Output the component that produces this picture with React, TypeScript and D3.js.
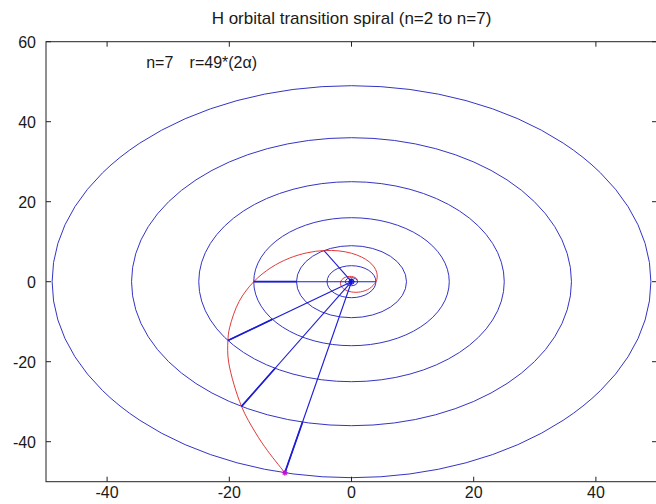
import React from 'react';
import * as d3 from 'd3';

// Orbit levels and radii (r = n^2)
const levels = [1, 2, 3, 4, 5, 6, 7];
const orbitRadii = [1, 4, 9, 16, 25, 36, 49];

// Transition points on each orbit (angle in degrees)
const transitionLevels = [2, 3, 4, 5, 6, 7];
const transitionAngles = [0, 120, 180, 216, 240, 257.14];

// Red spiral samples (angle in degrees, radius)
const spiralAngles = [-360, -330, -300, -270, -240, -210, -180, -150, -120, -90, -60, -30, 0, 15, 30, 45, 60, 75, 90, 105, 120, 135, 150, 165, 180, 195, 210, 216, 225, 240, 247.5, 252, 257.14];
const spiralRadii = [1, 1.089, 1.19, 1.306, 1.44, 1.596, 1.778, 1.993, 2.25, 2.56, 2.939, 3.408, 4, 4.355, 4.76, 5.224, 5.76, 6.382, 7.111, 7.972, 9, 10.24, 11.755, 13.633, 16, 19.04, 23.04, 25, 28.44, 36, 40.96, 44.44, 49];

const xTicks = [-40, -20, 0, 20, 40];
const yTicks = [-40, -20, 0, 20, 40, 60];
const xDomain = [-50, 50];
const yDomain = [-50, 60];

const title = 'H orbital transition spiral (n=2 to n=7)';
const noteLevel = 'n=7';
const noteFormula = 'r=49*(2α)';

const W = 656;
const H = 504;
const left = 46;
const right = 657;
const top = 41.7;
const bottom = 481.7;

const FONT = '"Liberation Sans", Arial, Helvetica, sans-serif';
const FS = 16;

export default function App() {
  const x = d3.scaleLinear().domain(xDomain).range([left, right]);
  const y = d3.scaleLinear().domain(yDomain).range([bottom, top]);
  const rad = (deg: number) => (deg * Math.PI) / 180;

  const spiralPts: [number, number][] = spiralAngles.map((a, i) => [
    x(spiralRadii[i] * Math.cos(rad(a))),
    y(spiralRadii[i] * Math.sin(rad(a))),
  ]);
  const spiralPath = d3.line().curve(d3.curveCatmullRom.alpha(0.5))(spiralPts) || '';

  const circleColor = '#3434c4';
  const rayColor = '#1c1cd4';
  const redColor = '#e03a3a';
  const textColor = '#1a1a1a';

  const lastIdx = transitionLevels.length - 1;
  const lastR = orbitRadii[transitionLevels[lastIdx] - 1];
  const lastA = rad(transitionAngles[lastIdx]);
  const px = x(lastR * Math.cos(lastA));
  const py = y(lastR * Math.sin(lastA));

  const cx0 = x(0);
  const cy0 = y(0);

  const star = (cx: number, cy: number, s: number, color: string, key: string) => (
    <g key={key} stroke={color} strokeWidth={1}>
      <line x1={cx - s} y1={cy} x2={cx + s} y2={cy} />
      <line x1={cx} y1={cy - s} x2={cx} y2={cy + s} />
      <line x1={cx - s * 0.7} y1={cy - s * 0.7} x2={cx + s * 0.7} y2={cy + s * 0.7} />
      <line x1={cx - s * 0.7} y1={cy + s * 0.7} x2={cx + s * 0.7} y2={cy - s * 0.7} />
    </g>
  );

  return (
    <svg width={W} height={H} style={{ position: 'absolute', left: 0, top: 0, background: '#fff' }} fontFamily={FONT}>
      <defs>
        <clipPath id="plot">
          <rect x={left} y={top} width={right - left} height={bottom - top} />
        </clipPath>
      </defs>
      <rect x={0} y={0} width={W} height={H} fill="#fff" />
      <text x={(left + right) / 2} y={24} textAnchor="middle" fontSize={17} fill={textColor}>
        {title}
      </text>
      <g clipPath="url(#plot)">
        {levels.map((n, i) => (
          <ellipse
            key={'c' + n}
            cx={cx0}
            cy={cy0}
            rx={x(orbitRadii[i]) - x(0)}
            ry={y(0) - y(orbitRadii[i])}
            fill="none"
            stroke={circleColor}
            strokeWidth={1}
          />
        ))}
        <path d={spiralPath} fill="none" stroke={redColor} strokeWidth={1} />
        {transitionLevels.map((n, i) => {
          const r = orbitRadii[n - 1];
          const r0 = orbitRadii[n - 2];
          const a = rad(transitionAngles[i]);
          const thick = n >= 4;
          return (
            <g key={'r' + n}>
              <line x1={cx0} y1={cy0} x2={x(r * Math.cos(a))} y2={y(r * Math.sin(a))} stroke={rayColor} strokeWidth={1.1} />
              {thick && (
                <line
                  x1={x(r0 * Math.cos(a))}
                  y1={y(r0 * Math.sin(a))}
                  x2={x(r * Math.cos(a))}
                  y2={y(r * Math.sin(a))}
                  stroke={rayColor}
                  strokeWidth={1.7}
                />
              )}
            </g>
          );
        })}
        <circle cx={cx0} cy={cy0} r={2.5} fill="none" stroke="#1010e0" strokeWidth={1} />
        {star(cx0, cy0, 3, '#1010e0', 'cs')}
        <circle cx={px} cy={py} r={2} fill="#c010d0" />
        {star(px, py, 3, '#c010d0', 'ps')}
      </g>
      {/* frame */}
      <rect x={left} y={top} width={right - left} height={bottom - top} fill="none" stroke="#222" strokeWidth={1} />
      {xTicks.map((t) => (
        <g key={'xt' + t}>
          <line x1={x(t)} y1={bottom} x2={x(t)} y2={bottom - 5} stroke="#222" />
          <line x1={x(t)} y1={top} x2={x(t)} y2={top + 5} stroke="#222" />
          <text x={x(t)} y={498} textAnchor="middle" fontSize={FS} fill={textColor}>
            {t}
          </text>
        </g>
      ))}
      {yTicks.map((t) => (
        <g key={'yt' + t}>
          <line x1={left} y1={y(t)} x2={left + 5} y2={y(t)} stroke="#222" />
          <line x1={right} y1={y(t)} x2={right - 5} y2={y(t)} stroke="#222" />
          <text x={36} y={y(t) + 6} textAnchor="end" fontSize={FS} fill={textColor}>
            {t}
          </text>
        </g>
      ))}
      <text x={x(-33.6)} y={y(53.5)} fontSize={FS} fill={textColor}>
        {noteLevel}
      </text>
      <text x={x(-26.5)} y={y(53.5)} fontSize={FS} fill={textColor}>
        {noteFormula}
      </text>
    </svg>
  );
}
